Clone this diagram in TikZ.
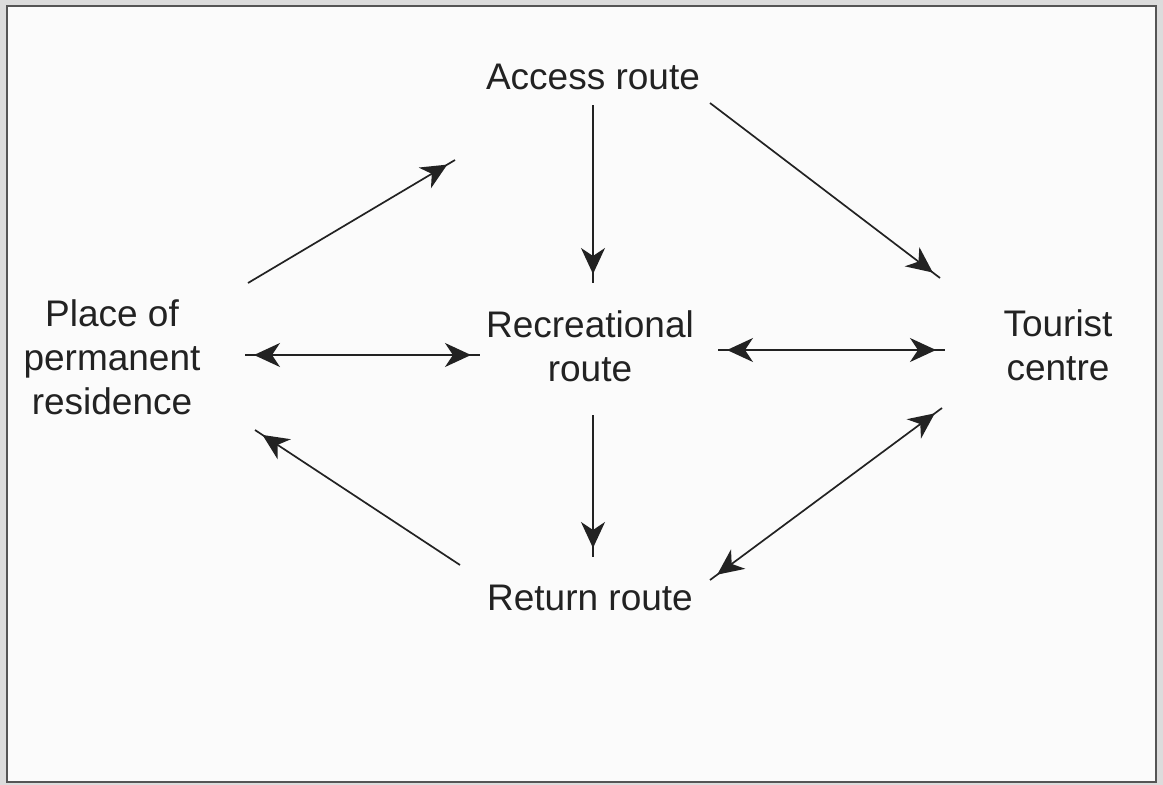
\documentclass[tikz,border=0pt]{standalone}
\usepackage{fontspec}
\setmainfont{Liberation Sans}
\usetikzlibrary{arrows.meta,decorations.markings,calc}
\definecolor{ink}{HTML}{222222}
\definecolor{framec}{HTML}{555555}
\definecolor{outside}{HTML}{DCDCDC}
\definecolor{paper}{HTML}{FBFBFB}
\tikzset{
  lbl/.style={font=\fontsize{37}{44}\selectfont, text=ink, inner sep=0pt, align=center},
  conn/.style={draw=ink, color=ink, line width=1.7pt},
  headtip/.tip={Stealth[length=26pt,width=24pt,inset=8pt]},
  endtip/.style={postaction={decorate}, decoration={markings,
      mark=at position -9pt with {\arrow{headtip}}}},
  bothtips/.style={postaction={decorate}, decoration={markings,
      mark=at position 9pt with {\arrowreversed{headtip}},
      mark=at position -9pt with {\arrow{headtip}}}},
  frameline/.style={draw=framec, line width=2.5pt}
}
\begin{document}
\begin{tikzpicture}[x=1pt,y=-1pt]
\useasboundingbox (0,0) rectangle (1163,785);
\fill[outside] (0,0) rectangle (1163,785);
\fill[paper] (7,6) rectangle (1156,782);
\draw[frameline] (7,6) rectangle (1156,782);

\node[lbl] (acc) at (593,77) {Access route};
\node[lbl] (rec) at (590,346) {Recreational\\route};
\node[lbl] (ret) at (590,598) {Return route};
\node[lbl] (tou) at (1058,345) {Tourist\\centre};
\node[lbl] (pla) at (112,357) {Place of\\permanent\\residence};

% Place -> Access
\draw[conn,endtip] ($(pla.center)+(136,-74)$) -- ($(acc.center)+(-138,83)$);
% Access -> Recreational
\draw[conn,endtip] ($(acc.center)+(0,28)$) -- ($(rec.center)+(3,-63)$);
% Access -> Tourist
\draw[conn,endtip] ($(acc.center)+(117,26)$) -- ($(tou.center)+(-118,-67)$);
% Place <-> Recreational
\draw[conn,bothtips] ($(pla.center)+(133,-2)$) -- ($(rec.center)+(-110,9)$);
% Recreational <-> Tourist
\draw[conn,bothtips] ($(rec.center)+(128,4)$) -- ($(tou.center)+(-113,5)$);
% Recreational -> Return
\draw[conn,endtip] ($(rec.center)+(3,69)$) -- ($(ret.center)+(3,-41)$);
% Return -> Place
\draw[conn,endtip] ($(ret.center)+(-130,-33)$) -- ($(pla.center)+(143,73)$);
% Return <-> Tourist
\draw[conn,bothtips] ($(ret.center)+(120,-18)$) -- ($(tou.center)+(-116,63)$);
\end{tikzpicture}
\end{document}
